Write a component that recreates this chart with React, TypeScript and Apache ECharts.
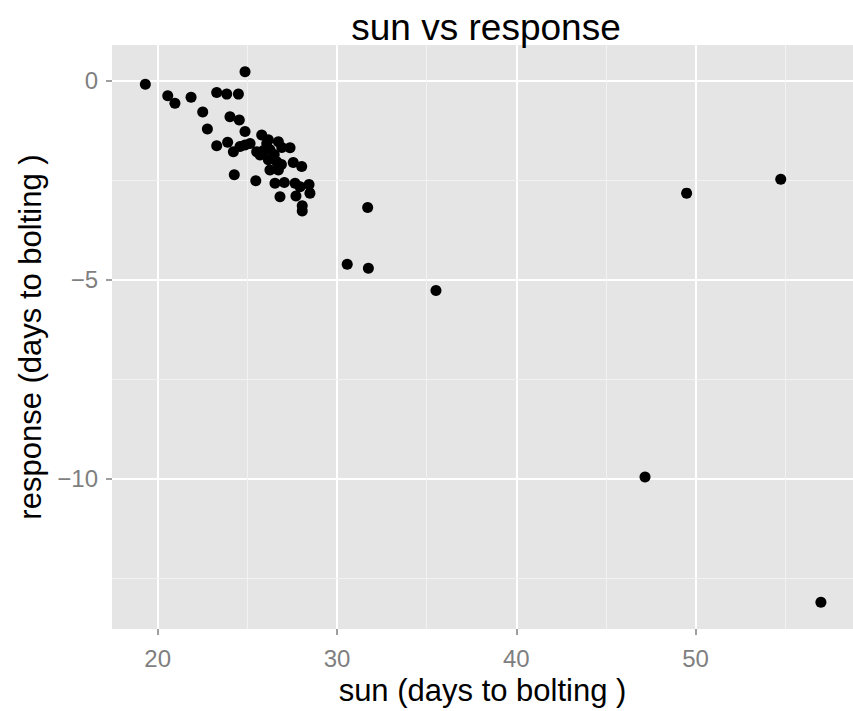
import React, { useEffect, useRef } from "react";
import * as echarts from "echarts";

const sunValues = [19.31, 24.87, 20.56, 20.96, 21.86, 23.29, 23.85, 24.5, 22.51, 24.03, 24.55, 22.77, 24.87, 23.29, 23.9, 24.22, 24.59, 25.15, 25.8, 25.52, 25.71, 26.17, 26.73, 27.38, 26.26, 26.92, 26.08, 26.17, 26.64, 26.26, 26.73, 27.56, 28.03, 24.27, 25.47, 26.54, 27.06, 27.66, 27.94, 28.44, 28.49, 26.82, 27.71, 28.06, 28.06, 31.71, 30.57, 31.75, 35.52, 47.18, 49.5, 54.75, 56.99, 24.87, 25.9, 26.5, 26.9];
const responseValues = [-0.08, 0.23, -0.37, -0.56, -0.41, -0.29, -0.33, -0.33, -0.78, -0.9, -0.98, -1.21, -1.27, -1.63, -1.54, -1.78, -1.65, -1.57, -1.36, -1.78, -1.86, -1.48, -1.53, -1.68, -1.73, -1.67, -1.57, -1.98, -2.03, -2.24, -2.24, -2.05, -2.15, -2.36, -2.51, -2.57, -2.55, -2.57, -2.66, -2.6, -2.82, -2.91, -2.89, -3.14, -3.27, -3.18, -4.61, -4.71, -5.27, -9.96, -2.82, -2.47, -13.11, -1.61, -1.75, -1.85, -2.1];

const xMajorTicks = [20, 30, 40, 50];
const xMinorTicks = [25, 35, 45, 55];
const yMajorTicks = [0, -5, -10];
const yMinorTicks = [-2.5, -7.5, -12.5];

const xRange = [17.45, 58.78];
const yRange = [-13.78, 0.905];

const FONT = "'Liberation Sans', Arial, Helvetica, sans-serif";

export default function App() {
  const ref = useRef<HTMLDivElement>(null);
  useEffect(() => {
    if (!ref.current) return;
    const chart = echarts.init(ref.current, undefined, { renderer: "svg" });
    const points = sunValues.map((s, i) => [s, responseValues[i]]);
    const minorLines = [
      ...xMinorTicks.map((v) => ({ xAxis: v })),
      ...yMinorTicks.map((v) => ({ yAxis: v })),
    ];
    chart.setOption({
      animation: false,
      backgroundColor: "#ffffff",
      title: {
        text: "sun vs response",
        left: 481,
        textAlign: "center",
        top: 4,
        textStyle: { fontFamily: FONT, fontSize: 37, fontWeight: "normal", color: "#000" },
      },
      grid: {
        left: 112,
        top: 45,
        width: 741,
        height: 584,
        show: true,
        backgroundColor: "#e5e5e5",
        borderWidth: 0,
      },
      xAxis: {
        type: "value",
        min: xRange[0],
        max: xRange[1],
        name: "sun (days to bolting )",
        nameLocation: "middle",
        nameGap: 45,
        nameTextStyle: { fontFamily: FONT, fontSize: 31, color: "#000" },
        axisLine: { show: false, onZero: false },
        axisTick: { show: true, length: 6, customValues: xMajorTicks, lineStyle: { color: "#7f7f7f", width: 1.5 } },
        axisLabel: { customValues: xMajorTicks, margin: 17, fontFamily: FONT, fontSize: 24, color: "#7f7f7f" },
        splitLine: { show: true, lineStyle: { color: "#ffffff", width: 2 } },
      },
      yAxis: {
        type: "value",
        min: yRange[0],
        max: yRange[1],
        name: "response (days to bolting )",
        nameLocation: "middle",
        nameGap: 57,
        nameTextStyle: { fontFamily: FONT, fontSize: 31, color: "#000" },
        axisLine: { show: false, onZero: false },
        axisTick: { show: true, length: 6, customValues: yMajorTicks, lineStyle: { color: "#7f7f7f", width: 1.5 } },
        axisLabel: {
          customValues: yMajorTicks,
          margin: 14,
          fontFamily: FONT,
          fontSize: 24,
          color: "#7f7f7f",
          formatter: (v: number) => (v < 0 ? "\u2212" + Math.abs(v) : String(v)),
        },
        splitLine: { show: true, lineStyle: { color: "#ffffff", width: 2 } },
      },
      series: [
        {
          type: "line",
          data: [],
          z: 1,
          silent: true,
          markLine: {
            silent: true,
            z: 1,
            symbol: ["none", "none"],
            label: { show: false },
            lineStyle: { color: "#f2f2f2", width: 1, type: "solid" },
            data: minorLines,
          },
        },
        {
          type: "scatter",
          z: 10,
          data: points,
          symbol: "circle",
          symbolSize: 11,
          itemStyle: { color: "#000000", opacity: 1 },
        },
      ],
    });
    return () => chart.dispose();
  }, []);
  return (
    <div
      ref={ref}
      style={{ position: "fixed", left: 0, top: 0, width: 853, height: 711 }}
    />
  );
}
